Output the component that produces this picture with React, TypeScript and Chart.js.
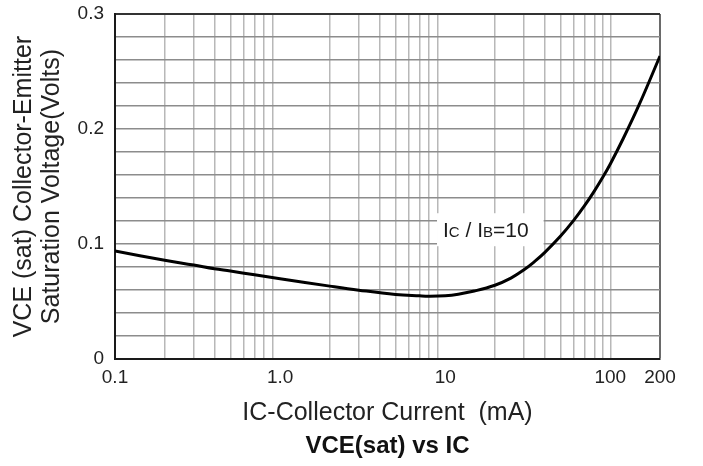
import React, { useEffect, useRef } from "react";
import { Chart, registerables } from "chart.js";

Chart.register(...registerables);

// Collector current (mA) and VCE(sat) (V)
const IC_MA = [0.1, 0.2, 0.3, 0.4, 0.5, 0.7, 1, 2, 3, 5, 7, 8, 10, 12, 15, 20, 25, 30, 35, 40, 50, 60, 70, 80, 90, 100, 120, 150, 200];
const VCE_SAT = [0.094, 0.086, 0.0818, 0.0786, 0.0766, 0.0733, 0.0699, 0.0635, 0.06, 0.0563, 0.0551, 0.0548, 0.0552, 0.0565, 0.0592, 0.0643, 0.0705, 0.0777, 0.0852, 0.0926, 0.107, 0.1206, 0.1336, 0.1461, 0.1581, 0.1697, 0.192, 0.2216, 0.2635];

// Axis grid / tick values
const X_GRID = [0.1, 0.2, 0.3, 0.4, 0.5, 0.6, 0.7, 0.8, 0.9, 1, 2, 3, 4, 5, 6, 7, 8, 9, 10, 20, 30, 40, 50, 60, 70, 80, 90, 100, 200];
const X_LABELS: Record<string, string> = { "0.1": "0.1", "1": "1.0", "10": "10", "100": "100", "200": "200" };
const X_HIDDEN_LINES = [0.1, 1, 10];
const Y_GRID = [0, 0.02, 0.04, 0.06, 0.08, 0.1, 0.12, 0.14, 0.16, 0.18, 0.2, 0.22, 0.24, 0.26, 0.28, 0.3];
const Y_LABELS: Record<string, string> = { "0": "0", "0.1": "0.1", "0.2": "0.2", "0.3": "0.3" };

const Y_TITLE = ["VCE (sat) Collector-Emitter", "Saturation Voltage(Volts)"];
const X_TITLE = "IC-Collector Current  (mA)";
const CHART_TITLE = "VCE(sat) vs IC";

// Annotation "IC / IB=10" (anchored at left of text, baseline)
const ANNOT_X = 9.7;
const ANNOT_Y = 0.106;
const ANNOT_PARTS = [
  { text: "I", small: false },
  { text: "C", small: true },
  { text: " / ", small: false },
  { text: "I", small: false },
  { text: "B", small: true },
  { text: "=10", small: false },
];

const FONT = "'Liberation Sans', Arial, Helvetica, sans-serif";

const annotationPlugin = {
  id: "icibLabel",
  beforeDatasetsDraw(chart: any) {
    const { ctx, scales } = chart;
    const x0 = scales.x.getPixelForValue(ANNOT_X);
    const base = scales.y.getPixelForValue(ANNOT_Y);
    ctx.save();
    const widths = ANNOT_PARTS.map((p) => {
      ctx.font = `${p.small ? 15 : 21}px ${FONT}`;
      return ctx.measureText(p.text).width;
    });
    const total = widths.reduce((a, b) => a + b, 0);
    ctx.fillStyle = "#ffffff";
    ctx.fillRect(x0 - 6, base - 24, total + 21, 33);
    ctx.fillStyle = "#1a1a1a";
    ctx.textBaseline = "alphabetic";
    ctx.textAlign = "left";
    let xx = x0;
    ANNOT_PARTS.forEach((p, i) => {
      ctx.font = `${p.small ? 15 : 21}px ${FONT}`;
      ctx.fillText(p.text, xx, base);
      xx += widths[i];
    });
    ctx.restore();
  },
};

export default function App() {
  const canvasRef = useRef<HTMLCanvasElement | null>(null);

  useEffect(() => {
    if (!canvasRef.current) return;
    const chart = new Chart(canvasRef.current, {
      type: "line",
      data: {
        datasets: [
          {
            data: IC_MA.map((x, i) => ({ x, y: VCE_SAT[i] })),
            borderColor: "#000000",
            borderWidth: 3,
            pointRadius: 0,
            fill: false,
            tension: 0.4,
          },
        ],
      },
      options: {
        animation: false,
        responsive: true,
        maintainAspectRatio: false,
        layout: { padding: { top: 14, right: 43, left: 0, bottom: 0 } },
        plugins: {
          legend: { display: false },
          tooltip: { enabled: false },
          title: {
            display: true,
            text: CHART_TITLE,
            position: "bottom",
            fullSize: false,
            color: "#111111",
            font: { family: FONT, size: 24, weight: "bold" },
            padding: { top: 0, bottom: 5 },
          },
        },
        scales: {
          x: {
            type: "logarithmic",
            min: 0.1,
            max: 200,
            afterBuildTicks: (scale: any) => {
              scale.ticks = X_GRID.map((v) => ({ value: v }));
            },
            afterFit: (scale: any) => {
              scale.height = 73;
              scale.paddingLeft = 0;
              scale.paddingRight = 0;
            },
            grid: {
              drawTicks: false,
              color: (ctx: any) => {
                const v = ctx.tick ? ctx.tick.value : null;
                if (v === 200) return "#6a6a6a";
                if (X_HIDDEN_LINES.includes(v)) return "rgba(0,0,0,0)";
                return "#b8b8b8";
              },
              lineWidth: (ctx: any) => (ctx.tick && ctx.tick.value === 200 ? 2 : 1.5),
            },
            border: { display: true, color: "#1a1a1a", width: 2 },
            ticks: {
              autoSkip: false,
              maxRotation: 0,
              minRotation: 0,
              padding: 7,
              color: "#222222",
              font: { family: FONT, size: 19 },
              callback: (v: any) => X_LABELS[String(v)] ?? "",
            },
            title: {
              display: true,
              text: X_TITLE,
              color: "#222222",
              font: { family: FONT, size: 25 },
              padding: { top: 0, bottom: 4 },
            },
          },
          y: {
            type: "linear",
            min: 0,
            max: 0.3,
            afterBuildTicks: (scale: any) => {
              scale.ticks = Y_GRID.map((v) => ({ value: v }));
            },
            afterFit: (scale: any) => {
              scale.width = 115;
              scale.paddingTop = 0;
              scale.paddingBottom = 0;
            },
            grid: {
              drawTicks: false,
              color: (ctx: any) => {
                const v = ctx.tick ? ctx.tick.value : null;
                if (v === 0) return "rgba(0,0,0,0)";
                if (v === 0.3) return "#333333";
                return "#8c8c8c";
              },
              lineWidth: (ctx: any) => (ctx.tick && ctx.tick.value === 0.3 ? 2 : 1.5),
            },
            border: { display: true, color: "#1a1a1a", width: 2 },
            ticks: {
              autoSkip: false,
              padding: 11,
              color: "#222222",
              font: { family: FONT, size: 19 },
              callback: (v: any) => Y_LABELS[String(v)] ?? "",
            },
            title: {
              display: true,
              text: Y_TITLE,
              color: "#222222",
              font: { family: FONT, size: 25, lineHeight: 1.12 },
              padding: { top: 10, bottom: 0 },
            },
          },
        },
      },
      plugins: [annotationPlugin],
    } as any);
    return () => chart.destroy();
  }, []);

  return (
    <div style={{ position: "fixed", left: 0, top: 0, width: 703, height: 466, background: "#ffffff" }}>
      <canvas ref={canvasRef} />
    </div>
  );
}
